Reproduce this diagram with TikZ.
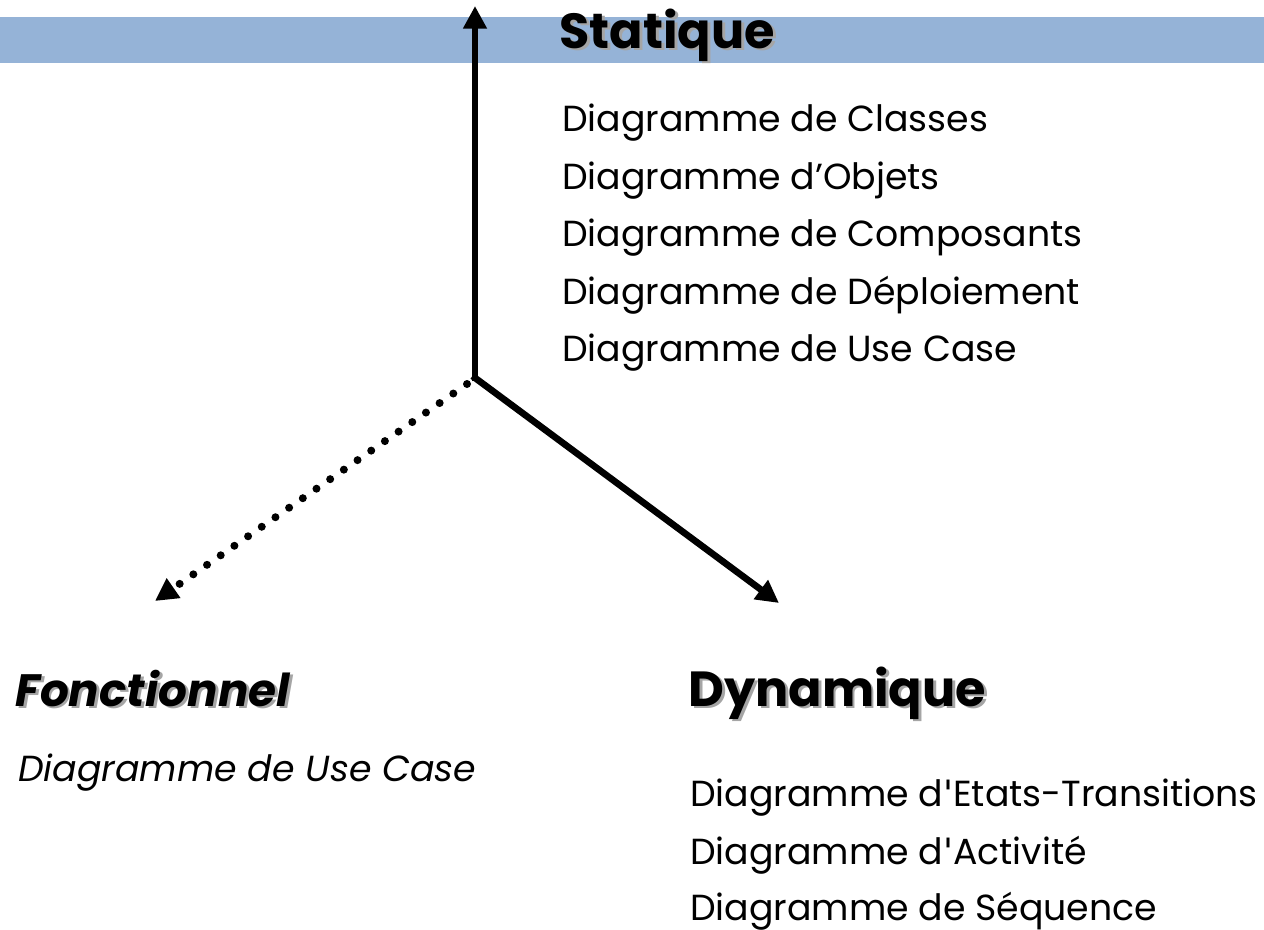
\documentclass[tikz,border=0pt]{standalone}
\usepackage{fontspec}
\setmainfont{Poppins}
\newfontfamily\quotefont{DejaVu Sans}
\usetikzlibrary{arrows.meta}
\definecolor{band}{RGB}{149,179,215}
\definecolor{shadowgray}{RGB}{165,165,165}
\newcommand{\shadowed}[1]{\makebox[0pt][l]{\hspace{2.2pt}\raisebox{-2.2pt}{\color{shadowgray}#1}}#1}
\newcommand{\sq}{{\quotefont\char"0027}}
\begin{document}
\begin{tikzpicture}[x=0.75pt,y=-0.75pt,
  listtext/.style={anchor=base west,inner sep=0pt,font=\fontsize{27.2}{32}\selectfont},
  titletext/.style={anchor=base west,inner sep=0pt,font=\fontsize{37}{42}\selectfont\bfseries},
  mainarrow/.style={line width=5pt,-{Triangle[length=17pt,width=17pt]}},
  dotarrow/.style={line width=6pt,line cap=round,dash pattern=on 0pt off 12.5pt,-{Triangle[length=17pt,width=17pt]}}]
\useasboundingbox (0,0) rectangle (1264,929);
\fill[band] (0,17) rectangle (1264,63);
% origin and end points
\coordinate (O) at (475,378);
\coordinate (top) at (475,6);
\coordinate (dyn) at (779,603);
\coordinate (fct) at (155,601);
\draw[mainarrow] ([yshift=-2.6pt]O) -- (top);
\draw[mainarrow] ([xshift=-1.9pt,yshift=1.5pt]O) -- (dyn);
\draw[dotarrow] (467,384) -- (fct);
% titles
\node[titletext] (stat) at (559,48) {\shadowed{Statique}};
\node[titletext,font=\fontsize{34}{40}\selectfont\bfseries\itshape] (fon) at (15,706) {\shadowed{Fonctionnel}};
\node[titletext] (dyna) at (688,706) {\shadowed{Dynamique}};
% lists
\node[listtext] (s1) at (562,131) {Diagramme de Classes};
\node[listtext] (s2) at (562,189) {Diagramme d’Objets};
\node[listtext] (s3) at (562,246) {Diagramme de Composants};
\node[listtext] (s4) at (562,304) {Diagramme de Déploiement};
\node[listtext] (s5) at (562,361) {Diagramme de Use Case};
\node[listtext,font=\fontsize{27.2}{32}\selectfont\itshape] (f1) at (18,781) {Diagramme de Use Case};
\node[listtext] (d1) at (690,806) {Diagramme d\sq Etats-Transitions};
\node[listtext] (d2) at (690,864) {Diagramme d\sq Activité};
\node[listtext] (d3) at (690,920) {Diagramme de Séquence};
\end{tikzpicture}
\end{document}
